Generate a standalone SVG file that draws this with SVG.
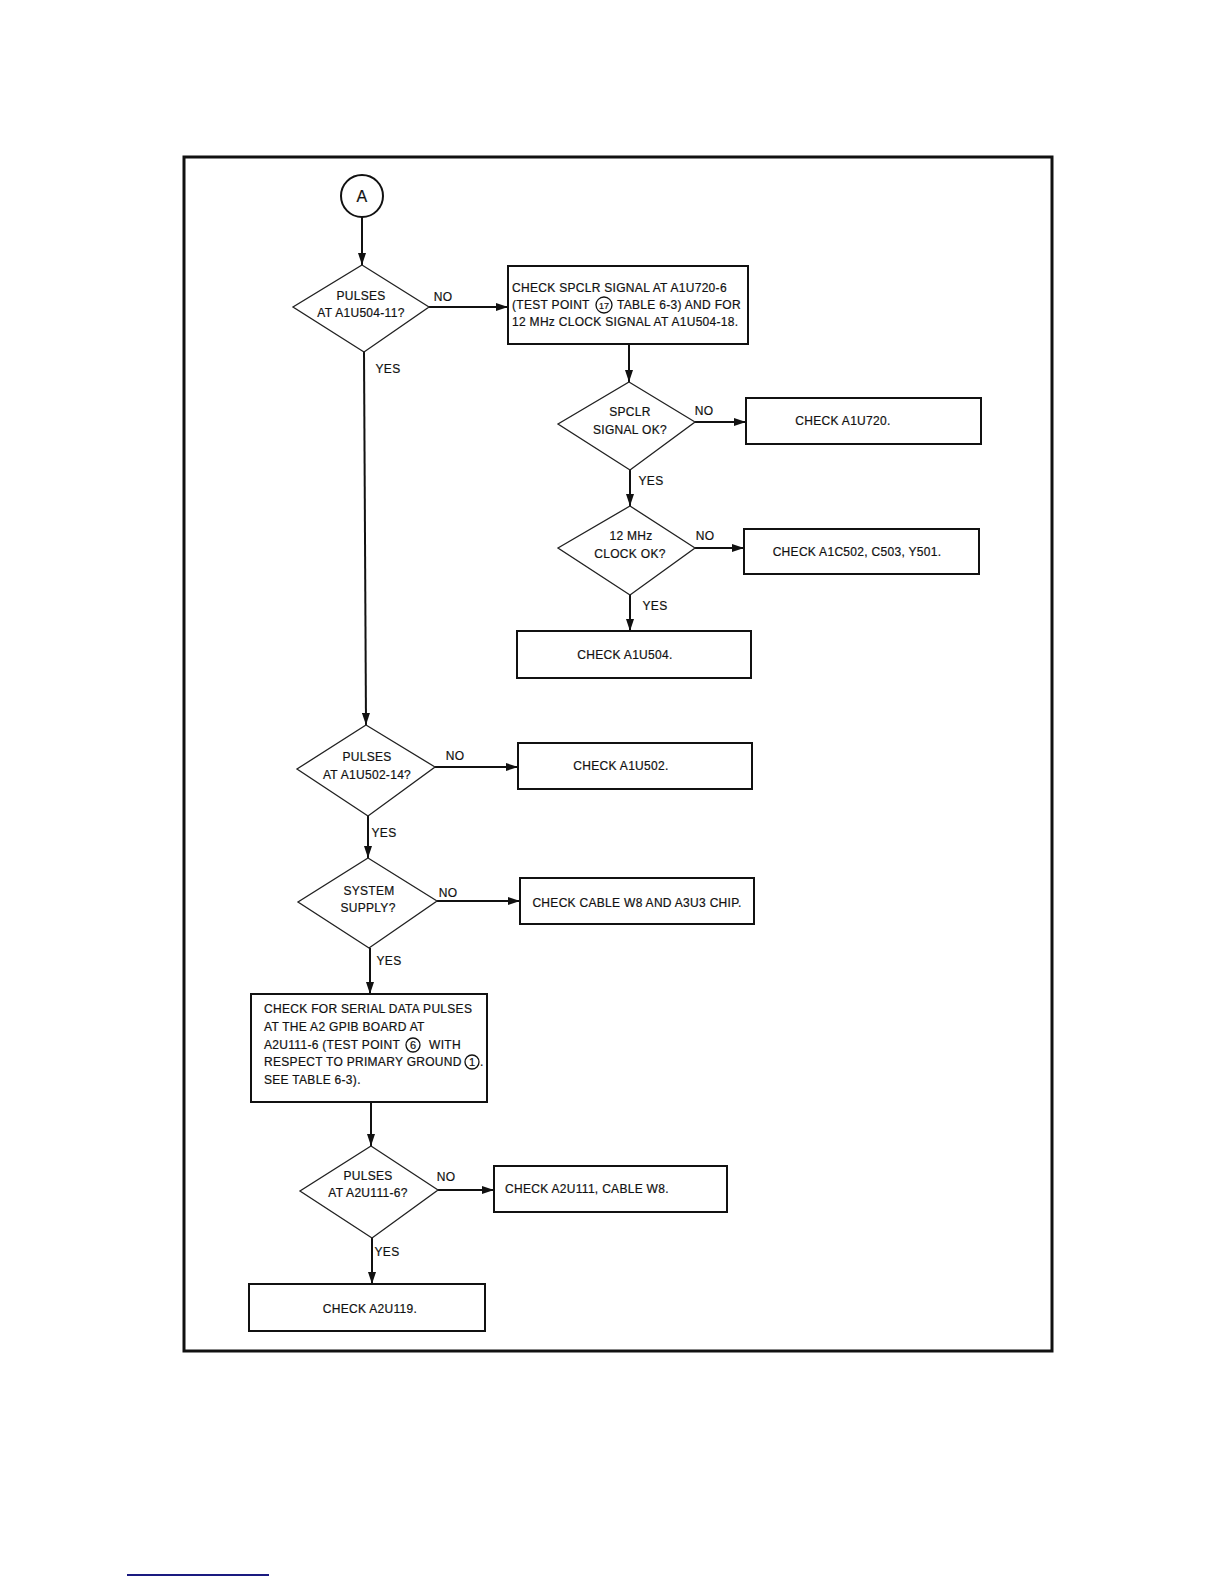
<svg xmlns="http://www.w3.org/2000/svg" width="1224" height="1584" viewBox="0 0 1224 1584">
<style>
  text { font-family: "Liberation Sans", Arial, sans-serif; font-size: 12px; fill: #111; letter-spacing: 0.3px; stroke: #111; stroke-width: 0.2px; }
  .c { text-anchor: middle; }
  .box { fill: #fff; stroke: #111; stroke-width: 2; }
  .dia { fill: #fff; stroke: #222; stroke-width: 1.3; }
  .cn { fill: none; stroke: #111; stroke-width: 2; marker-end: url(#arr); }
  .tp { fill: none; stroke: #111; stroke-width: 1.3; }
  .small { font-size: 9px; letter-spacing: 0; }
  .num { font-size: 11px; letter-spacing: 0; }
</style>
<defs>
  <marker id="arr" markerWidth="12" markerHeight="8" refX="12" refY="4" orient="auto" markerUnits="userSpaceOnUse">
    <path d="M0,0 L12,4 L0,8 Z" fill="#111"/>
  </marker>
</defs>
<rect width="1224" height="1584" fill="#fff"/>
<rect x="184" y="157" width="868" height="1194" fill="none" stroke="#111" stroke-width="3"/>

<g id="connectors">
  <path class="cn" d="M362,217 L362,265"/>
  <path class="cn" d="M429,307 L508,307"/>
  <path class="cn" d="M364,352 L366,725"/>
  <path class="cn" d="M629,344 L629,382"/>
  <path class="cn" d="M695,422 L746,422"/>
  <path class="cn" d="M630,470 L630,506"/>
  <path class="cn" d="M695,548 L744,548"/>
  <path class="cn" d="M630,595 L630,631"/>
  <path class="cn" d="M435,767 L518,767"/>
  <path class="cn" d="M368,816 L368,858"/>
  <path class="cn" d="M437,901 L520,901"/>
  <path class="cn" d="M370,948 L370,994"/>
  <path class="cn" d="M371,1102 L371,1146"/>
  <path class="cn" d="M438,1190 L494,1190"/>
  <path class="cn" d="M372,1238 L372,1284"/>
  <text class="c" x="443" y="301">NO</text>
  <text class="c" x="388" y="373">YES</text>
  <text class="c" x="704" y="415">NO</text>
  <text class="c" x="651" y="485">YES</text>
  <text class="c" x="705" y="540">NO</text>
  <text class="c" x="655" y="610">YES</text>
  <text class="c" x="455" y="760">NO</text>
  <text class="c" x="384" y="837">YES</text>
  <text class="c" x="448" y="897">NO</text>
  <text class="c" x="389" y="965">YES</text>
  <text class="c" x="446" y="1181">NO</text>
  <text class="c" x="387" y="1256">YES</text>
</g>

<g id="start-a">
  <circle cx="362" cy="196" r="21" fill="#fff" stroke="#111" stroke-width="2"/>
  <text class="c" x="362" y="202" style="font-size:16px">A</text>
</g>

<g id="d-pulses-504">
  <polygon class="dia" points="362,265 429,307 364,352 293,307"/>
  <text class="c" x="361" y="300">PULSES</text>
  <text class="c" x="361" y="317">AT A1U504-11?</text>
</g>

<g id="box-check-spclr">
  <rect class="box" x="508" y="266" width="240" height="78"/>
  <text x="512" y="292">CHECK SPCLR SIGNAL AT A1U720-6</text>
  <text x="512" y="309">(TEST POINT</text>
  <circle class="tp" cx="604" cy="305" r="8"/>
  <text class="c small" x="604" y="308.5">17</text>
  <text x="617" y="309">TABLE 6-3) AND FOR</text>
  <text x="512" y="326">12 MHz CLOCK SIGNAL AT A1U504-18.</text>
</g>

<g id="d-spclr-ok">
  <polygon class="dia" points="629,382 695,422 630,470 558,424"/>
  <text class="c" x="630" y="416">SPCLR</text>
  <text class="c" x="630" y="434">SIGNAL OK?</text>
</g>

<g id="box-a1u720">
  <rect class="box" x="746" y="398" width="235" height="46"/>
  <text class="c" x="843" y="425">CHECK A1U720.</text>
</g>

<g id="d-clock-ok">
  <polygon class="dia" points="630,506 695,548 630,595 558,548"/>
  <text class="c" x="631" y="540">12 MHz</text>
  <text class="c" x="630" y="558">CLOCK OK?</text>
</g>

<g id="box-a1c502">
  <rect class="box" x="744" y="529" width="235" height="45"/>
  <text class="c" x="857" y="556">CHECK A1C502, C503, Y501.</text>
</g>

<g id="box-a1u504">
  <rect class="box" x="517" y="631" width="234" height="47"/>
  <text class="c" x="625" y="659">CHECK A1U504.</text>
</g>

<g id="d-pulses-502">
  <polygon class="dia" points="366,725 435,767 368,816 297,769"/>
  <text class="c" x="367" y="761">PULSES</text>
  <text class="c" x="367" y="779">AT A1U502-14?</text>
</g>

<g id="box-a1u502">
  <rect class="box" x="518" y="743" width="234" height="46"/>
  <text class="c" x="621" y="770">CHECK A1U502.</text>
</g>

<g id="d-system-supply">
  <polygon class="dia" points="368,858 437,901 369,948 298,902"/>
  <text class="c" x="369" y="895">SYSTEM</text>
  <text class="c" x="368" y="912">SUPPLY?</text>
</g>

<g id="box-cable-w8">
  <rect class="box" x="520" y="878" width="234" height="46"/>
  <text class="c" x="637" y="907">CHECK CABLE W8 AND A3U3 CHIP.</text>
</g>

<g id="box-serial-data">
  <rect class="box" x="251" y="994" width="236" height="108"/>
  <text x="264" y="1013">CHECK FOR SERIAL DATA PULSES</text>
  <text x="264" y="1031">AT THE A2 GPIB BOARD AT</text>
  <text x="264" y="1049">A2U111-6 (TEST POINT</text>
  <circle class="tp" cx="413" cy="1045" r="7"/>
  <text class="c num" x="413" y="1049">6</text>
  <text x="429" y="1049">WITH</text>
  <text x="264" y="1066">RESPECT TO PRIMARY GROUND</text>
  <circle class="tp" cx="472" cy="1062" r="7"/>
  <text class="c num" x="472" y="1066">1</text>
  <text x="480" y="1066">.</text>
  <text x="264" y="1084">SEE TABLE 6-3).</text>
</g>

<g id="d-pulses-a2u111">
  <polygon class="dia" points="371,1146 438,1190 372,1238 300,1191"/>
  <text class="c" x="368" y="1180">PULSES</text>
  <text class="c" x="368" y="1197">AT A2U111-6?</text>
</g>

<g id="box-a2u111">
  <rect class="box" x="494" y="1166" width="233" height="46"/>
  <text x="505" y="1193">CHECK A2U111, CABLE W8.</text>
</g>

<g id="box-a2u119">
  <rect class="box" x="249" y="1284" width="236" height="47"/>
  <text class="c" x="370" y="1313">CHECK A2U119.</text>
</g>

<line x1="127" y1="1575" x2="269" y2="1575" stroke="#1a1a80" stroke-width="2"/>
</svg>
